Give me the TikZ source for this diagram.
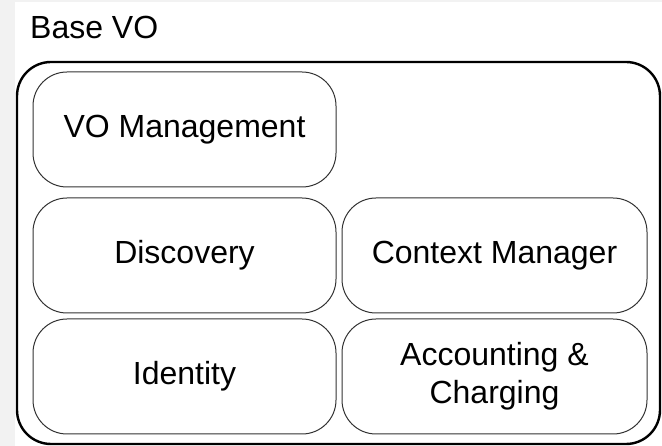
\documentclass[tikz,border=0pt]{standalone}
\usepackage{fontspec}
\setmainfont{Liberation Sans}
\begin{document}
\begin{tikzpicture}[x=1pt,y=-1pt,
  inbox/.style={draw=black!80, line width=1pt, rounded corners=34pt, inner sep=0pt,
    minimum width=303pt, minimum height=115pt, align=center,
    font=\fontsize{32}{38}\selectfont},
  outbox/.style={draw=black, line width=2.4pt, rounded corners=34pt, inner sep=0pt,
    minimum width=643pt, minimum height=382pt}]
\useasboundingbox (0,0) rectangle (662,446);
\fill[black!5] (0,0) rectangle (662,446);
\fill[white] (15,2) rectangle (662,446);
\node[anchor=base west, font=\fontsize{32}{38}\selectfont, inner sep=0pt] (title) at (30,39) {Base VO};
\node[outbox] (base) at (338.5,253) {};
\node[inbox] (vom) at (184.5,129.5) {VO Management};
\node[inbox] (disc) at (184.5,255.5) {Discovery};
\node[inbox, minimum width=305pt] (ctx) at (494.5,255.5) {Context Manager};
\node[inbox] (ident) at (184.5,376.5) {Identity};
\node[inbox, minimum width=305pt] (acc) at (494.5,376.5) {Accounting \&\\Charging};
\end{tikzpicture}
\end{document}
